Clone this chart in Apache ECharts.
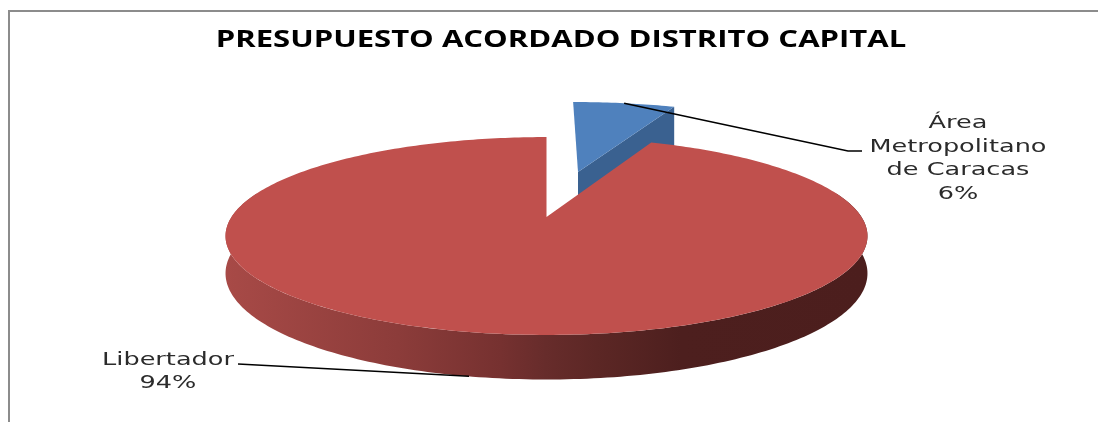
<!DOCTYPE html>
<html><head><meta charset="utf-8">
<style>html,body{margin:0;padding:0;background:#fff}#c{width:1098px;height:422px}</style>
<script src="https://cdn.jsdelivr.net/npm/echarts@6/dist/echarts.min.js"></script>
</head><body><div id="c"></div>
<script>
var titleText = 'PRESUPUESTO ACORDADO DISTRITO CAPITAL';
var categories = ['Área\nMetropolitano\nde Caracas', 'Libertador'];
var values = [6.4, 93.6];

var P = {cx:546.5, cy:217, A:315, B:95.3, k:-0.192, D:36};
function project(u, v, drop) {
  var den = 1 + P.k * v;
  return [P.cx + P.A * u / den, P.cy + P.B * v / den + (drop || 0) * P.D / den];
}
var total = values.reduce(function (a, b) { return a + b; }, 0);
function slicePt(deg, st, drop) {
  var r = deg * Math.PI / 180;
  return project(st.off[0] + st.radius * Math.sin(r), st.off[1] - st.radius * Math.cos(r), drop);
}
function arc(a0, a1, st, drop) {
  var out = [], n = Math.max(8, Math.ceil(Math.abs(a1 - a0)));
  for (var i = 0; i <= n; i++) out.push(slicePt(a0 + (a1 - a0) * i / n, st, drop));
  return out;
}
var styles = [
  {face:'#4f81bd', wall:'#3a6190', off:[0.11, -0.52], radius:1.05, depth:1.4, label:[958,159], elbow:[[848,151],[862,151]]},
  {face:'#c0504d', off:[0, 0], radius:1, depth:1, label:[168,372], elbow:[[238,364]]}
];
function textEl(txt, x, y, sx, font) {
  return {type:'text', x:x, y:y, scaleX:sx, originX:0, style:{text:txt, x:0, y:0, align:'center', verticalAlign:'middle', font:font, lineHeight:23.5, fill:'#2b2b2b'}};
}
function renderItem(params, api) {
  var i = params.dataIndex, st = styles[i], v = api.value(0);
  var start = 0;
  for (var j = 0; j < i; j++) start += values[j];
  var a0 = start / total * 360, a1 = (start + v) / total * 360, mid = (a0 + a1) / 2;
  var apex = project(st.off[0], st.off[1], 0), apexD = project(st.off[0], st.off[1], st.depth);
  var top = arc(a0, a1, st, 0);
  var ch = [];
  if (i === 1) {
    var wall = arc(Math.max(a0, 75), Math.min(a1, 285), st, 0)
      .concat(arc(Math.min(a1, 285), Math.max(a0, 75), st, st.depth));
    ch.push({type:'polygon', shape:{points:wall}, style:{fill:new echarts.graphic.LinearGradient(224, 0, 867, 0, [
      {offset:0, color:'#a84a47'}, {offset:.27, color:'#8c3c3a'}, {offset:.43, color:'#763130'},
      {offset:.5, color:'#672c2b'}, {offset:.58, color:'#5c2725'}, {offset:.71, color:'#4d1f1e'},
      {offset:1, color:'#4c1e1d'}], true)}});
  } else {
    var e = top[top.length - 1], eD = slicePt(a1, st, st.depth);
    ch.push({type:'polygon', shape:{points:[apex, e, eD, apexD]}, style:{fill:st.wall}});
  }
  ch.push({type:'polygon', shape:{points:[apex].concat(top)}, style:{fill:st.face}});
  var anchor = slicePt(mid, st, i === 1 ? st.depth : 0);
  ch.push({type:'polyline', shape:{points:[anchor].concat(st.elbow)}, style:{stroke:'#000', lineWidth:1.5, fill:null}, z2:5});
  var pct = Math.round(v / total * 100) + '%';
  ch.push(textEl(categories[i] + '\n' + pct, st.label[0], st.label[1], 1.42, '18px "DejaVu Sans"'));
  return {type:'group', children:ch};
}
var chart = echarts.init(document.getElementById('c'), null, {renderer:'canvas'});
chart.setOption({
  animation:false,
  backgroundColor:'#fff',
  graphic:[
    {type:'line', shape:{x1:9,y1:11,x2:1098,y2:11}, style:{stroke:'#8c8c8c',lineWidth:2}},
    {type:'line', shape:{x1:9,y1:10,x2:9,y2:422}, style:{stroke:'#8c8c8c',lineWidth:2}},
    {type:'text', x:561, y:40, scaleX:1.35, originX:0, style:{text:titleText, x:0, y:0, align:'center', verticalAlign:'middle', font:'bold 23px "Open Sans"', fill:'#000'}}
  ],
  series:[{
    type:'custom', coordinateSystem:'none', silent:true, clip:false,
    renderItem:renderItem,
    data:values.map(function (v) { return [v]; })
  }]
});
</script></body></html>
